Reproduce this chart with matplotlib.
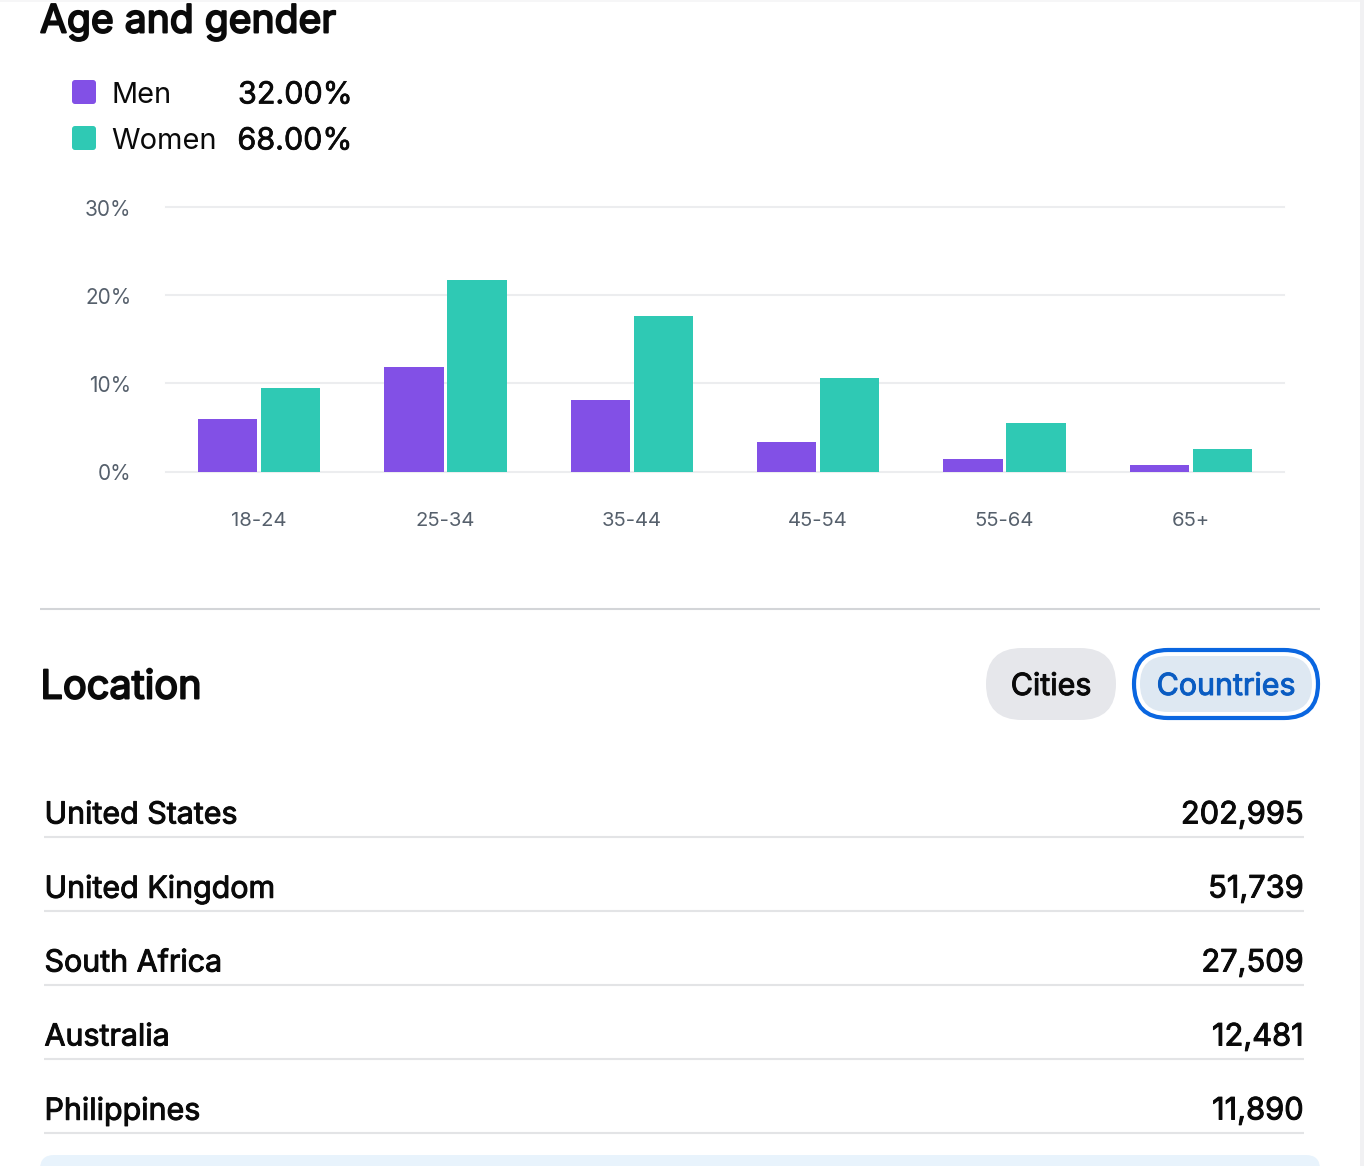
import matplotlib
matplotlib.use("Agg")
import matplotlib.pyplot as plt
import matplotlib.patheffects as pe
from matplotlib.patches import FancyBboxPatch, Rectangle
from matplotlib.transforms import ScaledTranslation
import numpy as np

W, H = 1364, 1166
plt.rcParams['font.family'] = ['Inter', 'DejaVu Sans']

# Chart data
age_groups = ["18-24", "25-34", "35-44", "45-54", "55-64", "65+"]
men = [5.9, 11.9, 8.1, 3.4, 1.4, 0.7]
women = [9.5, 21.7, 17.6, 10.6, 5.5, 2.5]
y_ticks = [0, 10, 20, 30]

legend_names = ["Men", "Women"]
legend_values = ["32.00%", "68.00%"]

countries = ["United States", "United Kingdom", "South Africa", "Australia", "Philippines"]
country_counts = ["202,995", "51,739", "27,509", "12,481", "11,890"]

PURPLE = "#8250e6"
TEAL = "#2fc9b4"
GRID = "#ecedef"
TICK = "#56606c"
INK = "#0a0a0a"

fig = plt.figure(figsize=(W / 100, H / 100), dpi=100, facecolor="white")

# Page overlay in pixel coordinates
page = fig.add_axes([0, 0, 1, 1], zorder=0)
page.set_xlim(0, W)
page.set_ylim(H, 0)
page.axis("off")

def px(size):
    return size * 0.72

def pill(x0, y0, x1, y1, radius, **kw):
    page.add_patch(FancyBboxPatch((x0 + radius, y0 + radius), x1 - x0 - 2 * radius, y1 - y0 - 2 * radius,
                                  boxstyle=f"round,pad={radius},rounding_size={radius}", **kw))

# Only the regular Inter face is picked up, so heavier text gets a thin outline
def label(x, y, s, size, color=INK, ha="left", stroke=0):
    t = page.text(x, y, s, fontsize=px(size), color=color, va="center", ha=ha)
    if stroke:
        t.set_path_effects([pe.withStroke(linewidth=stroke, foreground=color)])
    return t

# Scrollbar edge and top shadow
page.add_patch(Rectangle((1360, 0), 4, H, fc="#f1f1f3", ec="none"))
page.add_patch(Rectangle((0, 0), 1360, 2, fc="#f6f6f7", ec="none"))

label(40, 22, "Age and gender", 39.1, stroke=1.4)

# Legend
for name, value, color, y in zip(legend_names, legend_values, [PURPLE, TEAL], [92, 138]):
    pill(72, y - 12, 96, y + 12, 3, fc=color, ec="none")
    label(112 if name == "Men" else 111.5, y + 3.5, name, 29)
    label(352.5, y + 3.5, value, 30.5, ha="right", stroke=0.5)

# Bar chart
ax = fig.add_axes([166 / W, 1 - 471.5 / H, 1118 / W, 264.5 / H], zorder=1)
ax.patch.set_alpha(0)
x = np.arange(len(age_groups))
ax.bar(x - 0.169, men, width=0.318, color=PURPLE, zorder=3)
ax.bar(x + 0.169, women, width=0.318, color=TEAL, zorder=3)
ax.set_xlim(-0.5, 5.5)
ax.set_ylim(0, 30)
ax.set_yticks(y_ticks)
ax.set_yticklabels([f"{t}%" for t in y_ticks])
ax.set_xticks(x)
ax.set_xticklabels(age_groups)
ax.grid(axis="y", color=GRID, linewidth=1.5, zorder=0, clip_on=False)
ax.tick_params(axis="y", length=0, labelsize=px(20.8), labelcolor=TICK, pad=25)
ax.tick_params(axis="x", length=0, labelsize=px(20.2), labelcolor=TICK, pad=29)
for spine in ax.spines.values():
    spine.set_visible(False)
# y labels sit a pixel lower than their gridlines
nudge = ScaledTranslation(0, -1 / 100, fig.dpi_scale_trans)
for tick_label in ax.get_yticklabels():
    tick_label.set_transform(tick_label.get_transform() + nudge)

page.plot([40, 1320], [608.5, 608.5], color="#d3d5d8", lw=1.5, solid_capstyle="butt")

# Location header and buttons
label(40.5, 688, "Location", 39.7, stroke=1.4)
pill(986, 648, 1116, 720, 36, fc="#e6e7eb", ec="none")
label(1051, 687, "Cities", 30.4, ha="center", stroke=0.7)
pill(1134, 650, 1318, 718, 34, fc="white", ec="#0a66e0", lw=3)
pill(1140, 656, 1312, 712, 28, fc="#dee8f2", ec="none")
label(1226, 687, "Countries", 30.4, color="#0a5cc2", ha="center", stroke=0.7)

# Country table
for i, (country, count) in enumerate(zip(countries, country_counts)):
    y = 812.5 + 74 * i
    label(44.5, y + 3, country, 30.4, stroke=0.7)
    label(1304, y + 3, count, 30.8, ha="right", stroke=0.7)
    page.plot([44, 1304], [y + 24.5, y + 24.5], color="#e3e4e6", lw=1.5, solid_capstyle="butt")

# Start of the cut-off box at the bottom
pill(40, 1155, 1320, 1200, 14, fc="#e8f3fc", ec="none")

fig.savefig("out.png", dpi=100, facecolor="white")
